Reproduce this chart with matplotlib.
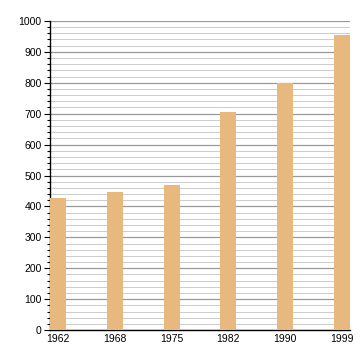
import matplotlib
matplotlib.use("Agg")
from matplotlib import pyplot as plt
from matplotlib.ticker import MultipleLocator

years = ["1962", "1968", "1975", "1982", "1990", "1999"]
population = [427, 446, 469, 704, 800, 955]

BAR_COLOUR = "#e8b97f"

plt.rcParams.update(
    {
        "font.family": "Liberation Sans",
        "font.size": 7.5,
    }
)

fig = plt.figure(figsize=(3.6, 3.6), dpi=100)
ax = fig.add_axes([0.139, 0.083, 0.833, 0.859])

positions = list(range(len(years)))
width = 0.28
ax.bar(positions, population, width=width, color=BAR_COLOUR, zorder=3)

ax.set_xlim(-width / 2, len(years) - 1 + width / 2)
ax.set_ylim(0, 1000)
ax.set_xticks(positions)
ax.set_xticklabels(years)

ax.yaxis.set_major_locator(MultipleLocator(100))
ax.yaxis.set_minor_locator(MultipleLocator(20))
ax.grid(True, which="major", axis="y", color="#999999", linewidth=0.9, zorder=0)
ax.grid(True, which="minor", axis="y", color="#cccccc", linewidth=0.7, zorder=0)

for side in ["top", "right"]:
    ax.spines[side].set_visible(False)
ax.spines["left"].set_linewidth(1.0)
ax.spines["bottom"].set_linewidth(1.0)

ax.tick_params(axis="y", which="major", length=4, width=0.8, pad=2, colors="black")
ax.tick_params(axis="y", which="minor", length=2.5, width=0.8)
ax.tick_params(axis="x", length=0, pad=3)

fig.savefig("out.png", dpi=100)
